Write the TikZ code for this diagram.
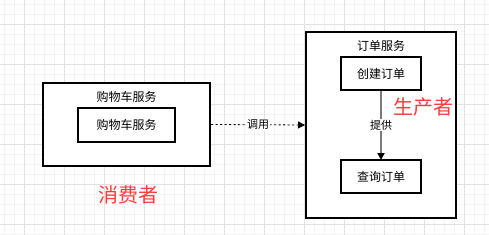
\documentclass[tikz,border=0pt]{standalone}
\usepackage{fontspec}
\setmainfont{Noto Sans CJK SC}
\usepackage{tikz}
\usetikzlibrary{arrows.meta, positioning}
\definecolor{gridmajor}{HTML}{E2E2E2}
\definecolor{gridminor}{HTML}{F4F4F4}
\definecolor{rolered}{HTML}{FF3B3B}
\definecolor{linegray}{HTML}{7A7A7A}

\tikzset{
  outerbox/.style={draw, line width=2pt, minimum width=#1, inner sep=0pt},
  innerbox/.style={draw, line width=2pt, fill=white, inner sep=0pt, font=\fontsize{12}{14}\selectfont},
  titletext/.style={font=\fontsize{12}{14}\selectfont},
  roletext/.style={font=\fontsize{20}{24}\selectfont, text=rolered},
  edgelabel/.style={fill=white, inner sep=1pt, font=\fontsize{11}{13}\selectfont}
}

\begin{document}
\begin{tikzpicture}[x=1pt, y=-1pt]
        \useasboundingbox[fill=white] (0,0) rectangle (489,235);

        % Raster
        \foreach \g in {4,14,...,484} {
            \draw[gridminor, line width=0.6pt] (\g,0) -- (\g,235);
        }
        \foreach \g in {4,14,...,234} {
            \draw[gridminor, line width=0.6pt] (0,\g) -- (489,\g);
        }
        \foreach \g in {24,64,...,464} {
            \draw[gridmajor, line width=0.8pt] (\g,0) -- (\g,235);
        }
        \foreach \g in {24,64,...,224} {
            \draw[gridmajor, line width=0.8pt] (0,\g) -- (489,\g);
        }

        % 购物车服务
        \node[outerbox=167pt, minimum height=83pt, fill=white] (cartouter) at (126.5,124.5) {};
        \node[titletext] (carttitle) at (126.5,97) {购物车服务};
        \node[innerbox, minimum width=97pt, minimum height=34pt] (cartinner) at (126.5,125) {购物车服务};
        \node[roletext] (consumer) at (128,195) {消费者};

        % 订单服务
        \node[outerbox=150pt, minimum height=186pt, fill=white] (orderouter) at (381,125) {};
        \node[titletext] (ordertitle) at (381,46) {订单服务};
        \node[innerbox, minimum width=80pt, minimum height=33pt] (create) at (381,73.5) {创建订单};
        \node[innerbox, minimum width=80pt, minimum height=33pt] (query) at (381,176.5) {查询订单};
        \node[roletext] (producer) at (423,107) {生产者};

        % Pfeile
        \draw[linegray, line width=2pt, -{Triangle[width=7pt, length=7pt, color=black]}, shorten >=-1pt]
            (create.south) -- node[edgelabel, text=black] {提供} (query.north);
        \draw[line width=0.8pt, dash pattern=on 2pt off 2.5pt, -{Triangle[width=7pt, length=7pt]}]
            (cartouter.east) -- node[edgelabel] {调用} (orderouter.west);
    \end{tikzpicture}
\end{document}
